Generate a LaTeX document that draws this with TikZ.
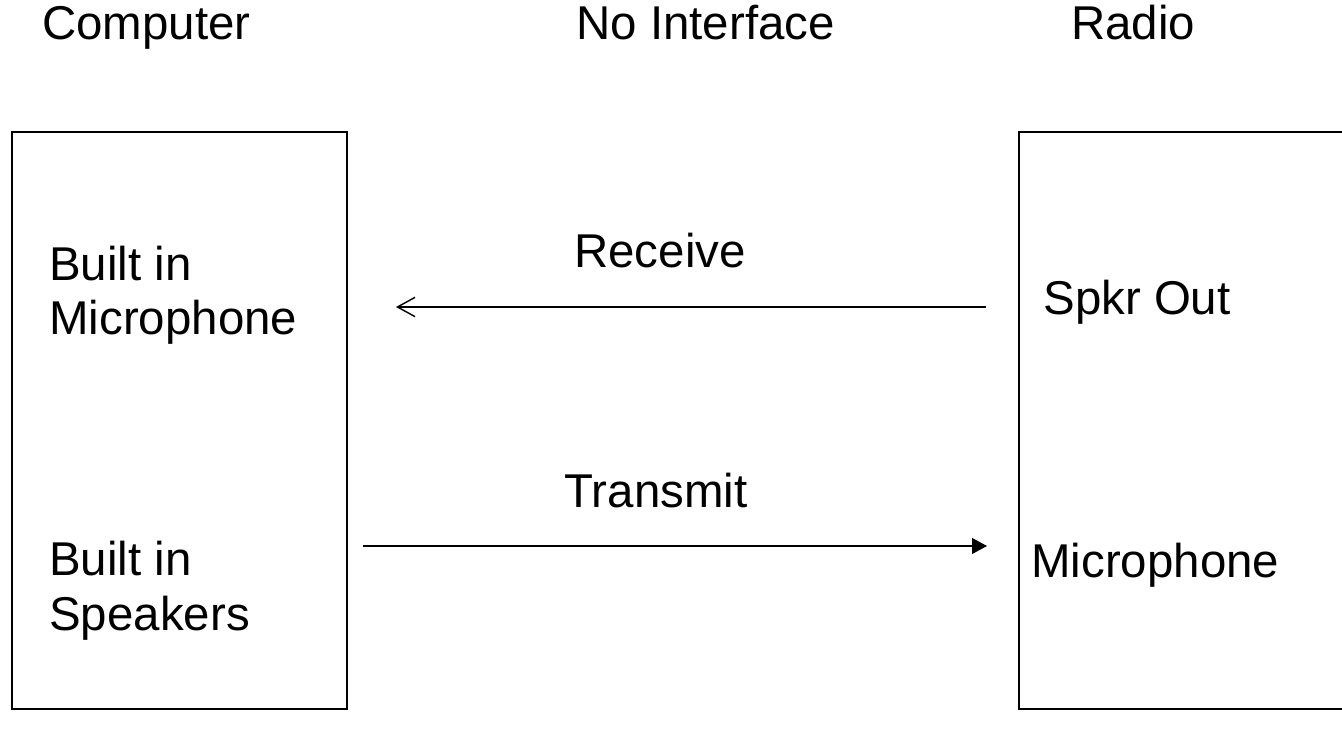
\documentclass[tikz,border=0pt]{standalone}
\usepackage{fontspec}
\setmainfont{Liberation Sans}
\usepackage{tikz}
\usetikzlibrary{arrows.meta,positioning}

\begin{document}
\begin{tikzpicture}[
    x=0.02cm, y=-0.02cm,
    unit/.style={draw=black, line width=1.1pt, minimum width=6.7cm, minimum height=11.54cm, inner sep=0pt},
    lbl/.style={font=\fontsize{27}{31}\selectfont, inner sep=0pt, align=left},
    sig/.style={line width=0.8pt}
]
    \useasboundingbox (0,0) rectangle (1342,739);

    % Headings
    \node[lbl, anchor=base west] (hcomp) at (42, 40) {Computer};
    \node[lbl, anchor=base west] (hnone) at (576, 40) {No Interface};
    \node[lbl, anchor=base west] (hradio) at (1071, 40) {Radio};

    % Computer box (base = last line)
    \node[unit, anchor=north west] (comp) at (11, 131) {};
    \node[lbl, anchor=base west] (c_mic) at (49, 335) {Built in\\Microphone};
    \node[lbl, anchor=base west] (c_spk) at (49, 630) {Built in\\Speakers};

    % Radio box
    \node[unit, anchor=north west] (radio) at (1018, 131) {};
    \node[lbl, anchor=base west] (r_out) at (1043, 315) {Spkr Out};
    \node[lbl, anchor=base west] (r_mic) at (1031, 578) {Microphone};

    % Signal paths
    \coordinate (rx_from) at (986, 307);
    \coordinate (rx_to) at (396, 307);
    \coordinate (tx_from) at (363, 546);
    \coordinate (tx_to) at (987, 546);
    \draw[sig, -{Straight Barb[length=10pt, width=11pt]}] (rx_from) -- (rx_to);
    \draw[sig, -{Triangle[length=8.5pt, width=9pt]}] (tx_from) -- (tx_to);

    \node[lbl, anchor=base] (l_rx) at (660, 268) {Receive};
    \node[lbl, anchor=base] (l_tx) at (656, 508) {Transmit};
\end{tikzpicture}
\end{document}
